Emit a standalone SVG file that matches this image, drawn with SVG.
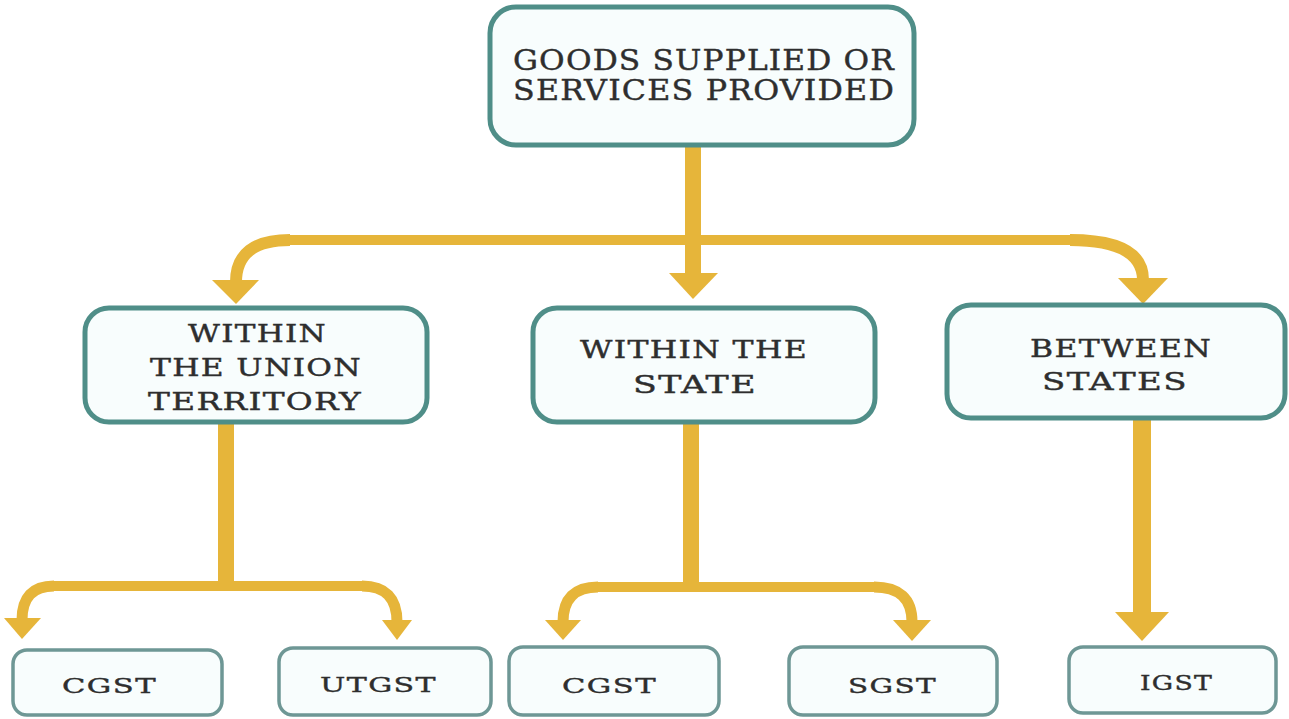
<svg xmlns="http://www.w3.org/2000/svg" width="1289" height="719" viewBox="0 0 1289 719">
<style>
.box{fill:#f8fdfd;stroke:#4f8e88;stroke-width:5}
.sbox{fill:#f8fdfd;stroke:#6e9795;stroke-width:3.5}
.t{font-family:"DejaVu Serif","Liberation Serif",serif;fill:#2e2e2e;stroke:#2e2e2e;stroke-width:0.4;letter-spacing:1px}
.big{font-size:27px}
.mid{font-size:24px}
.sm{font-size:21px}
.ln{fill:none;stroke:#e6b53a}
.ah{fill:#e6b53a}
</style>
<rect width="1289" height="719" fill="#ffffff"/>
<g id="connectors">
  <line class="ln" x1="693" y1="146" x2="693" y2="275" stroke-width="16"/>
  <path class="ln" d="M 280 240 L 1080 240" stroke-width="10"/>
  <path class="ln" d="M 290 240 Q 236 240 236 282" stroke-width="12"/>
  <path class="ln" d="M 1070 240 Q 1143 240 1143 280" stroke-width="12"/>
  <polygon class="ah" points="212,280 259,280 236,304"/>
  <polygon class="ah" points="669,273 718,273 693,299"/>
  <polygon class="ah" points="1118,278 1168,278 1143,304"/>

  <line class="ln" x1="226" y1="422" x2="226" y2="586" stroke-width="16"/>
  <path class="ln" d="M 48 586 L 368 586" stroke-width="10"/>
  <path class="ln" d="M 54 586 Q 22 586 22 620" stroke-width="11"/>
  <path class="ln" d="M 362 586 Q 397 586 397 622" stroke-width="11"/>
  <polygon class="ah" points="4,618 41,618 22,639"/>
  <polygon class="ah" points="382,620 412,620 397,640"/>

  <line class="ln" x1="691" y1="422" x2="691" y2="587" stroke-width="16"/>
  <path class="ln" d="M 592 587 L 880 587" stroke-width="10"/>
  <path class="ln" d="M 598 587 Q 563 587 563 622" stroke-width="11"/>
  <path class="ln" d="M 874 587 Q 912 587 912 622" stroke-width="11"/>
  <polygon class="ah" points="545,620 581,620 563,640"/>
  <polygon class="ah" points="893,620 931,620 912,641"/>

  <line class="ln" x1="1142" y1="418" x2="1142" y2="614" stroke-width="18"/>
  <polygon class="ah" points="1115,612 1169,612 1142,641"/>
</g>
<g id="root">
  <rect class="box" x="490" y="7" width="424" height="138" rx="26"/>
  <text class="t big" x="513" y="70" textLength="382" lengthAdjust="spacingAndGlyphs">GOODS SUPPLIED OR</text>
  <text class="t big" x="513" y="100" textLength="382" lengthAdjust="spacingAndGlyphs">SERVICES PROVIDED</text>
</g>
<g id="ut">
  <rect class="box" x="85" y="308" width="342" height="114" rx="24"/>
  <text class="t mid" x="188" y="342" textLength="139" lengthAdjust="spacingAndGlyphs">WITHIN</text>
  <text class="t mid" x="150" y="376" textLength="212" lengthAdjust="spacingAndGlyphs">THE UNION</text>
  <text class="t mid" x="148" y="410" textLength="214" lengthAdjust="spacingAndGlyphs">TERRITORY</text>
</g>
<g id="state">
  <rect class="box" x="533" y="308" width="342" height="114" rx="24"/>
  <text class="t mid" x="580" y="358" textLength="228" lengthAdjust="spacingAndGlyphs">WITHIN THE</text>
  <text class="t mid" x="633" y="393" textLength="124" lengthAdjust="spacingAndGlyphs">STATE</text>
</g>
<g id="between">
  <rect class="box" x="947" y="305" width="338" height="113" rx="24"/>
  <text class="t mid" x="1030" y="357" textLength="182" lengthAdjust="spacingAndGlyphs">BETWEEN</text>
  <text class="t mid" x="1042" y="390" textLength="146" lengthAdjust="spacingAndGlyphs">STATES</text>
</g>
<g id="cgst1">
  <rect class="sbox" x="13" y="650" width="209" height="65" rx="14"/>
  <text class="t sm" x="62" y="693" textLength="95" lengthAdjust="spacingAndGlyphs">CGST</text>
</g>
<g id="utgst">
  <rect class="sbox" x="279" y="648" width="212" height="67" rx="14"/>
  <text class="t sm" x="320" y="692" textLength="117" lengthAdjust="spacingAndGlyphs">UTGST</text>
</g>
<g id="cgst2">
  <rect class="sbox" x="509" y="647" width="210" height="68" rx="14"/>
  <text class="t sm" x="562" y="693" textLength="95" lengthAdjust="spacingAndGlyphs">CGST</text>
</g>
<g id="sgst">
  <rect class="sbox" x="789" y="647" width="208" height="68" rx="14"/>
  <text class="t sm" x="848" y="693" textLength="89" lengthAdjust="spacingAndGlyphs">SGST</text>
</g>
<g id="igst">
  <rect class="sbox" x="1069" y="647" width="207" height="66" rx="14"/>
  <text class="t sm" x="1140" y="690" textLength="73" lengthAdjust="spacingAndGlyphs">IGST</text>
</g>
</svg>
